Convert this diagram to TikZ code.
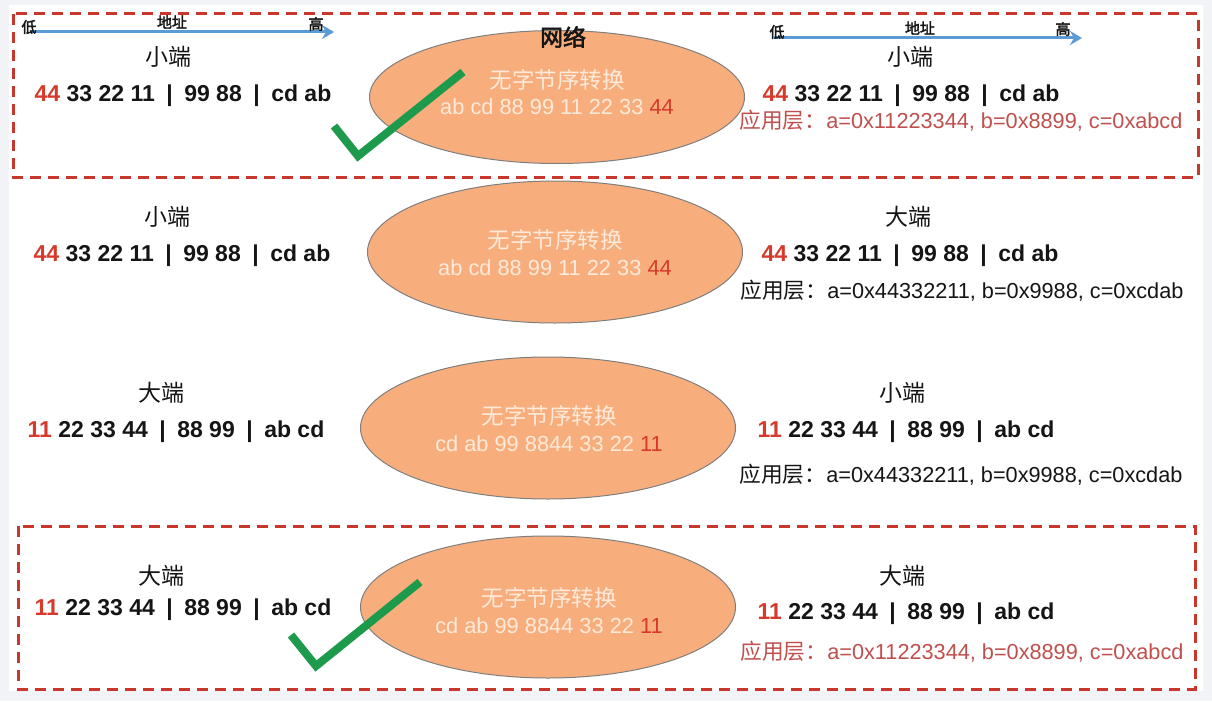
\documentclass[tikz,border=0pt]{standalone}
\usepackage{fontspec}
\usepackage{xcolor}
\usetikzlibrary{shapes.geometric,arrows.meta}
\setmainfont{Liberation Sans}
\newfontfamily\cjk{Noto Sans CJK SC}
\newfontfamily\cjkbold{Noto Sans CJK SC}[FakeBold=2.5]
\definecolor{bgray}{HTML}{F2F3F7}
\definecolor{boxred}{HTML}{C9372C}
\definecolor{numred}{HTML}{D63A2C}
\definecolor{apred}{HTML}{C0504D}
\definecolor{ellfill}{HTML}{F8AE7C}
\definecolor{ellline}{HTML}{7F7F7F}
\definecolor{elltext}{HTML}{FDEADB}
\definecolor{arrblue}{HTML}{5B9BD5}
\definecolor{chkgreen}{HTML}{1E9A4C}
\definecolor{txt}{HTML}{151515}
\tikzset{
  lbl/.style={inner sep=0pt,text=txt,font=\cjk\fontsize{23}{26}\selectfont},
  nums/.style={inner sep=0pt,text=txt,font=\bfseries\fontsize{23}{26}\selectfont},
  app/.style={inner sep=0pt,font=\fontsize{21.7}{24}\selectfont},
  ell/.style={ellipse,draw=ellline,line width=1pt,fill=ellfill,inner sep=0pt,minimum width=375pt,minimum height=142pt},
  etxt/.style={inner sep=0pt,text=elltext,font=\fontsize{21.8}{24}\selectfont},
  ecjk/.style={inner sep=0pt,text=elltext,font=\cjk\fontsize{22.5}{24}\selectfont},
  dbox/.style={draw=boxred,line width=3pt,dash pattern=on 11pt off 7pt},
  addr/.style={draw=arrblue,line width=3pt,-{Stealth[length=12pt,width=14pt,inset=4pt]}},
  addrlbl/.style={inner sep=0pt,text=txt,font=\cjkbold\fontsize{15}{18}\selectfont},
  chk/.style={draw=chkgreen,line width=8pt,line join=miter},
}
\newcommand{\sepbar}{\hspace{0.5em}|\hspace{0.5em}}
\newcommand{\ap}[1]{{\cjk 应用层：}#1}
\begin{document}
\begin{tikzpicture}[x=1pt,y=-1pt]
\useasboundingbox (0,0) rectangle (1212,701);
\fill[bgray] (0,0) rectangle (1212,701);
\fill[white] (9,5) rectangle (1203,691);

% dashed boxes
\draw[dbox] (13,14) rectangle (1198,177);
\draw[dbox] (18,526) rectangle (1195,689);

% ellipses
\node[ell,minimum width=375pt,minimum height=133pt] (e1) at (557,97) {};
\node[ell] (e2) at (555,252) {};
\node[ell] (e3) at (548,428) {};
\node[ell] (e4) at (548,607) {};

% network label
\node[inner sep=0pt,text=txt,font=\cjkbold\fontsize{23}{26}\selectfont] (net) at (563,37) {网络};

% ellipse texts
\node[ecjk] (e1a) at (557,80) {无字节序转换};
\node[etxt] (e1b) at (557,107) {ab cd 88 99 11 22 33 \textcolor{numred}{44}};
\node[ecjk] (e2a) at (555,240) {无字节序转换};
\node[etxt] (e2b) at (555,268) {ab cd 88 99 11 22 33 \textcolor{numred}{44}};
\node[ecjk] (e3a) at (549,416) {无字节序转换};
\node[etxt] (e3b) at (549,444) {cd ab 99 8844 33 22 \textcolor{numred}{11}};
\node[ecjk] (e4a) at (549,598) {无字节序转换};
\node[etxt] (e4b) at (549,626) {cd ab 99 8844 33 22 \textcolor{numred}{11}};

% address arrows
\coordinate (a1s) at (30,32);
\coordinate (a1e) at (334,32);
\draw[addr] (a1s) -- (a1e);
\node[addrlbl] (a1lo) at (29,27) {低};
\node[addrlbl] (a1mid) at (172,22) {地址};
\node[addrlbl] (a1hi) at (316,24) {高};
\coordinate (a2s) at (774,38);
\coordinate (a2e) at (1082,38);
\draw[addr] (a2s) -- (a2e);
\node[addrlbl] (a2lo) at (777,32) {低};
\node[addrlbl] (a2mid) at (920,28) {地址};
\node[addrlbl] (a2hi) at (1063,29) {高};

% row 1
\node[lbl] (l1t) at (168,57) {小端};
\node[nums] (l1n) at (183,96) {\textcolor{numred}{44} 33 22 11\sepbar 99 88\sepbar cd ab};
\node[lbl] (r1t) at (910,57) {小端};
\node[nums] (r1n) at (911,96) {\textcolor{numred}{44} 33 22 11\sepbar 99 88\sepbar cd ab};
\node[app,text=apred] (r1a) at (961,121) {\ap{a=0x11223344, b=0x8899, c=0xabcd}};

% row 2
\node[lbl] (l2t) at (167,217) {小端};
\node[nums] (l2n) at (182,256) {\textcolor{numred}{44} 33 22 11\sepbar 99 88\sepbar cd ab};
\node[lbl] (r2t) at (908,217) {大端};
\node[nums] (r2n) at (910,256) {\textcolor{numred}{44} 33 22 11\sepbar 99 88\sepbar cd ab};
\node[app,text=txt] (r2a) at (962,291) {\ap{a=0x44332211, b=0x9988, c=0xcdab}};

% row 3
\node[lbl] (l3t) at (161,393) {大端};
\node[nums] (l3n) at (176,432) {\textcolor{numred}{11} 22 33 44\sepbar 88 99\sepbar ab cd};
\node[lbl] (r3t) at (902,393) {小端};
\node[nums] (r3n) at (906,432) {\textcolor{numred}{11} 22 33 44\sepbar 88 99\sepbar ab cd};
\node[app,text=txt] (r3a) at (961,475) {\ap{a=0x44332211, b=0x9988, c=0xcdab}};

% row 4
\node[lbl] (l4t) at (161,576) {大端};
\node[nums] (l4n) at (183,610) {\textcolor{numred}{11} 22 33 44\sepbar 88 99\sepbar ab cd};
\node[lbl] (r4t) at (902,576) {大端};
\node[nums] (r4n) at (906,614) {\textcolor{numred}{11} 22 33 44\sepbar 88 99\sepbar ab cd};
\node[app,text=apred] (r4a) at (962,652) {\ap{a=0x11223344, b=0x8899, c=0xabcd}};

% check marks
\draw[chk] (334,126) -- (358,156) -- (463,72);
\draw[chk] (291,635) -- (316,666) -- (420,582);
\end{tikzpicture}
\end{document}
